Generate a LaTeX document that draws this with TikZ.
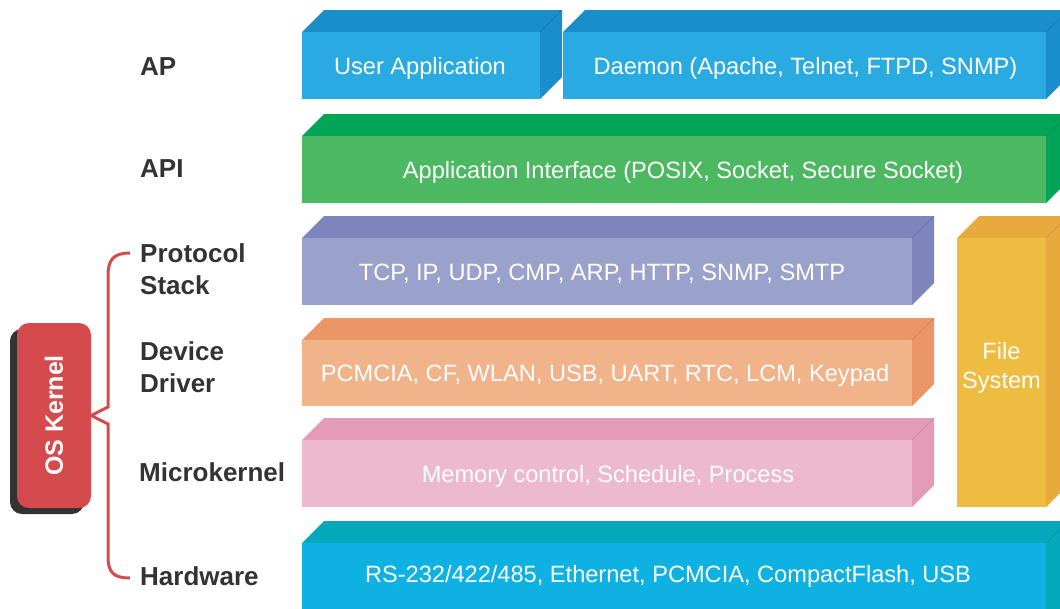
\documentclass[tikz,border=0pt]{standalone}
\usepackage{fontspec}
\setmainfont{Liberation Sans}
\usetikzlibrary{shadows}
\definecolor{apF}{HTML}{29ABE2}\definecolor{apD}{HTML}{1A8DCB}
\definecolor{apiF}{HTML}{4DB862}\definecolor{apiD}{HTML}{02A557}
\definecolor{psF}{HTML}{9AA2CC}\definecolor{psD}{HTML}{7E84BC}
\definecolor{ddF}{HTML}{F0B38A}\definecolor{ddD}{HTML}{EC9567}
\definecolor{mkF}{HTML}{EDB9CC}\definecolor{mkD}{HTML}{E39BB6}
\definecolor{fsF}{HTML}{EDBC40}\definecolor{fsD}{HTML}{E8AA3D}
\definecolor{hwF}{HTML}{0DB1E2}\definecolor{hwD}{HTML}{03A9BA}
\definecolor{kred}{HTML}{D54A4D}
\definecolor{lbl}{HTML}{333333}
\newcommand\cubeblk[9]{% name, x0, y0, x1, y1, front, dark, text, text offset (x,y)
  \fill[#7] (#2,#3) -- (#2+22,#3-22) -- (#4+22,#3-22) -- (#4+22,#5-22) -- (#4,#5) -- (#4,#3) -- cycle;
  \draw[#7!85!black, line width=0.4pt] (#4,#3) -- (#4+22,#3-22);
  \fill[#6] (#2,#3) rectangle (#4,#5);
  \node[blocktext, shift={#9}] (#1) at ({(#2+#4)/2},{(#3+#5)/2}) {#8};
}
\begin{document}
\begin{tikzpicture}[x=1pt,y=-1pt,
  blocktext/.style={text=white, font=\fontsize{23.6}{29}\selectfont, align=center, inner sep=0pt},
  layerlabel/.style={text=lbl, font=\fontsize{26}{32}\selectfont\bfseries, anchor=west, align=left, inner sep=0pt},
  kernel/.style={fill=kred, rounded corners=12pt, minimum width=74pt, minimum height=185pt, inner sep=0pt,
    drop shadow={shadow xshift=-7pt, shadow yshift=-6pt, opacity=1, fill=lbl}},
  brace/.style={draw=kred, line width=3pt, line join=miter}]
\useasboundingbox (0,0) rectangle (1060,608);
\clip (0,0) rectangle (1060,608);
\fill[white] (0,0) rectangle (1060,608);
% blocks
\cubeblk{ua}{302}{32}{540}{99}{apF}{apD}{User Application}{(-1,3)}
\cubeblk{dm}{563}{32}{1046}{99}{apF}{apD}{Daemon (Apache, Telnet, FTPD, SNMP)}{(1,3)}
\cubeblk{api}{302}{136}{1046}{203}{apiF}{apiD}{Application Interface (POSIX, Socket, Secure Socket)}{(9,2.5)}
\cubeblk{ps}{302}{238}{912}{305}{psF}{psD}{TCP, IP, UDP, CMP, ARP, HTTP, SNMP, SMTP}{(-5,2.5)}
\cubeblk{dd}{302}{340}{912}{406}{ddF}{ddD}{PCMCIA, CF, WLAN, USB, UART, RTC, LCM, Keypad}{(-2,2.5)}
\cubeblk{mk}{302}{440}{912}{507}{mkF}{mkD}{Memory control, Schedule, Process}{(1,3)}
\cubeblk{fs}{957}{238}{1046}{507}{fsF}{fsD}{File\\System}{(0,-5)}
\fill[hwD] (302,543) -- (324,521) -- (1068,521) -- (1068,640) -- (1046,640) -- (1046,543) -- cycle;
\draw[hwD!85!black, line width=0.4pt] (1046,543) -- (1068,521);
\fill[hwF] (302,543) rectangle (1046,640);
\node[blocktext] (hw) at (668,576) {RS-232/422/485, Ethernet, PCMCIA, CompactFlash, USB};
% left labels
\node[layerlabel] (lap) at (140,67) {AP};
\node[layerlabel] (lapi) at (140,169) {API};
\node[layerlabel] (lps) at (140,269) {Protocol\\Stack};
\node[layerlabel] (ldd) at (140,367) {Device\\Driver};
\node[layerlabel] (lmk) at (139,472) {Microkernel};
\node[layerlabel] (lhw) at (140,576) {Hardware};
% kernel
\node[kernel] (kern) at (54,415.5) {};
\node[text=white, font=\fontsize{25}{30}\selectfont\bfseries, rotate=90, inner sep=0pt] (kt) at (kern.center) {OS Kernel};
% brace
\draw[brace] (130,253) .. controls (113,253) and (108,260) .. (108,276) -- (108,407) -- (kern.east) -- (108,424) -- (108,556) .. controls (108,572) and (113,578) .. (130,578);
\end{tikzpicture}
\end{document}
